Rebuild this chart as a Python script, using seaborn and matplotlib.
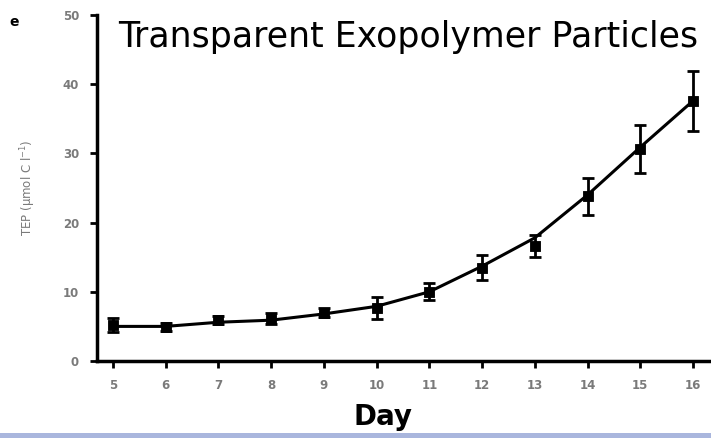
import matplotlib
matplotlib.use("Agg")
import matplotlib.pyplot as plt
import seaborn as sns
import pandas as pd
import numpy as np

days = [5, 6, 7, 8, 9, 10, 11, 12, 13, 14, 15, 16]
tep_mean = [5.2, 4.9, 5.9, 6.1, 7.0, 7.7, 10.0, 13.5, 16.6, 23.8, 30.6, 37.6]
tep_err = [1.0, 0.6, 0.6, 0.8, 0.7, 1.6, 1.2, 1.8, 1.6, 2.7, 3.5, 4.3]
fit_curve = [5.0, 5.0, 5.6, 5.9, 6.8, 7.9, 10.0, 13.7, 17.8, 24.0, 30.9, 37.6]
y_ticks = [0, 10, 20, 30, 40, 50]

df = pd.DataFrame({"day": days, "tep": tep_mean, "err": tep_err, "fit": fit_curve})

sns.set_theme(style="ticks")
plt.rcParams["font.family"] = ["DejaVu Sans"]

fig = plt.figure(figsize=(7.11, 4.38), dpi=100)
ax = fig.add_axes([97/711, 1 - 361/438, 1 - 97/711, (361 - 15)/438])

sns.lineplot(data=df, x="day", y="fit", ax=ax, color="black", linewidth=2.2)
ax.errorbar(df["day"], df["tep"], yerr=df["err"], fmt="none", ecolor="black",
            elinewidth=2, capsize=4, capthick=2)
sns.scatterplot(data=df, x="day", y="tep", ax=ax, marker="s", s=60, color="black",
                edgecolor="black", zorder=5)

ax.set_xlim(4.70, 16.34)
ax.set_ylim(0, 50)
ax.set_xticks(days)
ax.set_yticks(y_ticks)
ax.set_xticklabels([str(d) for d in days], color="#7a7a7a", fontsize=8.5, fontweight="bold")
ax.set_yticklabels([str(v) for v in y_ticks], color="#7a7a7a", fontsize=8.5, fontweight="bold")
ax.tick_params(axis="both", length=5, width=2, color="black", pad=8)
for s in ["top", "right"]:
    ax.spines[s].set_visible(False)
for s in ["left", "bottom"]:
    ax.spines[s].set_linewidth(2.5)
    ax.spines[s].set_color("black")
ax.set_xlabel("")
ax.set_ylabel("TEP (µmol C l$^{-1}$)", color="#7a7a7a", fontsize=8.5, labelpad=18)

fig.text(118/711, 1 - 47/438, "Transparent Exopolymer Particles", fontsize=25,
         color="black", ha="left", va="baseline")
fig.text(383/711, 1 - 425/438, "Day", fontsize=20, fontweight="bold",
         color="black", ha="center", va="baseline")
fig.text(14/711, 1 - 22/438, "e", fontsize=10, fontweight="bold", color="black",
         ha="center", va="center")
fig.patches.append(matplotlib.patches.Rectangle((0, 0), 1, 5/438, transform=fig.transFigure,
                                                 facecolor="#a9b6dd", edgecolor="none"))

fig.savefig("out.png", dpi=100)
